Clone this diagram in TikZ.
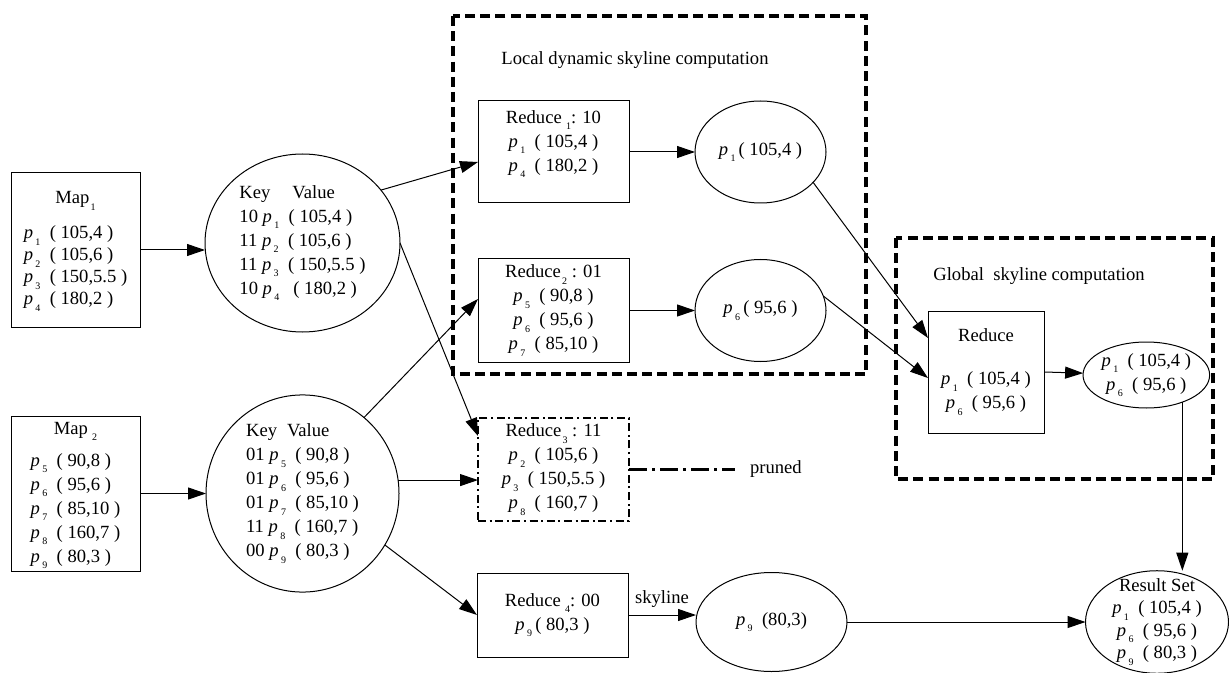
\documentclass[tikz,border=0pt]{standalone}
\usepackage{fontspec}
\setmainfont{Liberation Serif}
\usetikzlibrary{positioning,shapes.geometric,arrows.meta,calc}

\newcommand{\lowidx}[1]{\hspace{0.6pt}\raisebox{-3.2pt}{\fontsize{5}{6}\selectfont #1}}
\newcommand{\pp}[1]{\textit{p}\hspace{0.6pt}\lowidx{#1}}

\begin{document}
\begin{tikzpicture}[x=0.5pt,y=-0.5pt,
		every node/.style={font=\fontsize{9.3}{12}\selectfont},
		box/.style={draw,rectangle,line width=0.5pt,outer sep=0pt,align=center,inner sep=0pt,minimum width=75.5pt},
		blob/.style={draw,ellipse,line width=0.5pt,outer sep=0pt,align=center,inner sep=0pt},
		arr/.style={-{Triangle[length=9pt,width=6pt]},line width=0.5pt},
		grp/.style={line width=1.7pt,dash pattern=on 5pt off 2.6pt},
		dashdotbox/.style={line width=1.2pt,dash pattern=on 4pt off 1.8pt on 1pt off 1.8pt},
		prune/.style={line width=1.7pt,dash pattern=on 9pt off 2.5pt on 1.5pt off 2.5pt}]
			
	\useasboundingbox (0,0) rectangle (1229,673);
			
	\node[box,minimum width=64.5pt,minimum height=77pt,font=\fontsize{9.3}{11}\selectfont](map1) at (75.5,250)
		{\begin{tabular}{@{}l@{}}\multicolumn{1}{@{}c@{}}{Map\lowidx{1}}\\[6.5pt]
		\pp{1}\ \ ( 105,4 )\\ \pp{2}\ \ ( 105,6 )\\ \pp{3}\ \ ( 150,5.5 )\\ \pp{4}\ \ ( 180,2 )\end{tabular}};
	\node[box,minimum width=64.5pt,minimum height=77.5pt,below=44.5pt of map1](map2)
		{\begin{tabular}{@{}l@{}}\multicolumn{1}{@{}c@{}}{Map\,\lowidx{2}}\\[4pt]
		\pp{5}\ \ ( 90,8 )\\ \pp{6}\ \ ( 95,6 )\\ \pp{7}\ \ ( 85,10 )\\ \pp{8}\ \ ( 160,7 )\\ \pp{9}\ \ ( 80,3 )\end{tabular}};
			
	\node[blob,minimum width=97.5pt,minimum height=89pt,align=left,right=32.5pt of map1,yshift=3.5pt](kv1)
		{Key\hspace{11pt}Value\\ 10 \pp{1}\ \ ( 105,4 )\\ 11 \pp{2}\ \ ( 105,6 )\\ 11 \pp{3}\ \ ( 150,5.5 )\\ 10 \pp{4}\ \ \ ( 180,2 )};
	\node[blob,minimum width=96.5pt,minimum height=97pt,align=left,right=33pt of map2](kv2)
		{Key\hspace{5pt}Value\\ 01 \pp{5}\ \ ( 90,8 )\\ 01 \pp{6}\ \ ( 95,6 )\\ 01 \pp{7}\ \ ( 85,10 )\\ 11 \pp{8}\ \ ( 160,7 )\\ 00 \pp{9}\ \ ( 80,3 )};
			
	\node[box,minimum height=51pt](red1) at (553.5,152)
		{Reduce\,\lowidx{1}: 10\\ \pp{1}\ \ ( 105,4 )\\ \pp{4}\ \ ( 180,2 )\\[-1pt]\mbox{}};
	\node[box,minimum height=51.5pt,below=28pt of red1](red2)
		{Reduce\lowidx{2}\ : 01\\ \pp{5}\ \ ( 90,8 )\\ \pp{6}\ \ ( 95,6 )\\ \pp{7}\ \ ( 85,10 )};
	\node[box,dashdotbox,minimum height=51.5pt,below=28pt of red2](red3)
		{Reduce\lowidx{3}\ : 11\\ \pp{2}\ \ ( 105,6 )\\ \pp{3}\ \ ( 150,5.5 )\\ \pp{8}\ \ ( 160,7 )};
	\node[box,minimum height=42pt](red4) at (552.5,615)
		{Reduce\,\lowidx{4}: 00\\ \pp{9}\,( 80,3 )};
			
	\node[blob,minimum width=65.5pt,minimum height=51pt,right=33pt of red1](sky1){\pp{1}\,( 105,4 )};
	\node[blob,minimum width=65.5pt,minimum height=51pt,right=33pt of red2](sky2){\pp{6}\,( 95,6 )};
	\node[blob,minimum width=75.5pt,minimum height=49.5pt,right=34pt of red4,yshift=-3.5pt](sky3){\pp{9}\ \ (80,3)};
			
	\node[box,minimum width=58pt,minimum height=61pt](gred) at (986,372)
		{Reduce\\[9.5pt] \pp{1}\ \ ( 105,4 )\\ \pp{6}\ \ ( 95,6 )};
	\node[blob,minimum width=59pt,minimum height=33pt,right=19.5pt of gred,yshift=-1.5pt](gsky)
		{\pp{1}\ \ ( 105,4 )\\ \pp{6}\ \ ( 95,6 )};
	\node[blob,minimum width=71.5pt,minimum height=50pt,inner sep=-3.6pt,font=\fontsize{9.3}{11.25}\selectfont](res) at (1157,622)
		{Result Set\\ \pp{1}\ \ ( 105,4 )\\ \pp{6}\ \ ( 95,6 )\\ \pp{9}\ \ ( 80,3 )};
			
	\node(loc) at (635,60){Local dynamic skyline computation};
	\node(glob) at (1039,276){Global\ \ skyline computation};
	\coordinate[right=53pt of red3](cut);
	\node[right=4pt of cut](prn){pruned};
			
	\draw[arr] (map1.east) -- (map1.east -| kv1.west);
	\draw[arr] (map2.east) -- (map2.east -| kv2.west);
	\draw[arr] (kv1.34) -- ($(red1.west)+(0,10)$);
	\draw[arr] (kv1.east) -- ($(red3.north west)+(0,18)$);
	\draw[arr] (kv2.51) -- ($(red2.west)+(0,-11.5)$);
	\draw[arr] (kv2.8) -- (kv2.8 -| red3.west);
	\draw[arr] (kv2.-32) -- (red4.west);
	\draw[arr] (red1) -- (sky1);
	\draw[arr] (red2) -- (sky2);
	\draw[arr] (red4.east) -- node[above]{skyline} (red4.east -| sky3.west);
	\draw[arr] (sky3) -- (sky3 -| res.west);
	\draw[arr] (sky1.-30) -- ($(gred.north west)+(0,27)$);
	\draw[arr] (sky2.13) -- ($(gred.west)+(0,6)$);
	\draw[arr] (gred.east) -- (gsky);
	\draw[arr] (gsky.-37) -- (gsky.-37 |- res.north);
	\draw[prune] (red3.east) -- (cut);
			
	\draw[grp] (453,16) rectangle (866,374);
	\draw[grp] (896,238) rectangle (1213,479);
			
\end{tikzpicture}
\end{document}
